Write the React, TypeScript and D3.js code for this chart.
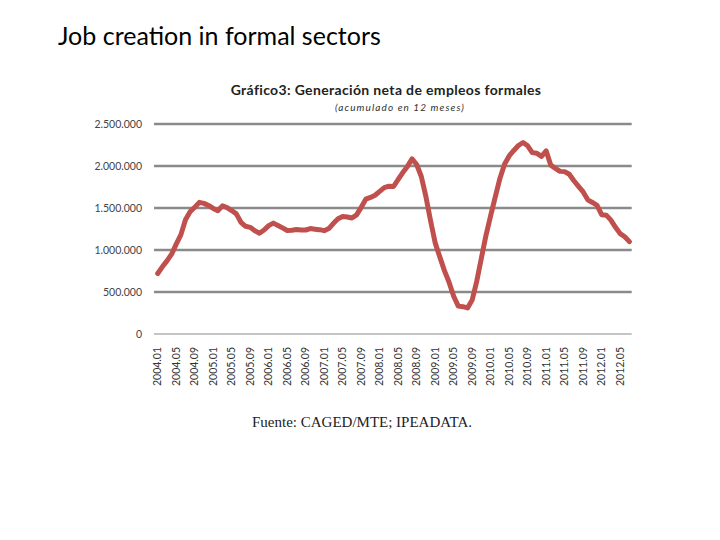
import { useEffect, useRef } from 'react';
import * as d3 from 'd3';

// monthly categories 2004.01 .. 2012.07
const months: string[] = [];
for (let y = 2004; y <= 2012; y++) {
  for (let m = 1; m <= 12; m++) {
    if (y === 2012 && m > 7) break;
    months.push(`${y}.${String(m).padStart(2, '0')}`);
  }
}

// net formal job creation, 12-month accumulated
const jobs = [
  720000, 800000, 870000, 950000, 1070000, 1180000, 1360000, 1456000, 1510000, 1567000,
  1555000, 1530000, 1495000, 1467000, 1525000, 1505000, 1470000, 1430000, 1330000, 1282000,
  1270000, 1230000, 1200000, 1238000, 1290000, 1320000, 1292000, 1263000, 1232000, 1236000,
  1245000, 1238000, 1238000, 1255000, 1248000, 1242000, 1230000, 1255000, 1318000, 1372000,
  1400000, 1393000, 1381000, 1418000, 1508000, 1605000, 1626000, 1652000, 1698000, 1742000,
  1760000, 1756000, 1840000, 1922000, 1995000, 2085000, 2018000, 1875000, 1635000, 1350000,
  1085000, 918000, 754000, 616000, 449000, 332000, 325000, 310000, 405000, 630000,
  906000, 1178000, 1410000, 1633000, 1852000, 2021000, 2120000, 2185000, 2244000, 2280000,
  2240000, 2159000, 2151000, 2115000, 2180000, 2010000, 1972000, 1936000, 1933000, 1902000,
  1824000, 1757000, 1691000, 1597000, 1566000, 1532000, 1420000, 1415000, 1356000, 1270000,
  1195000, 1158000, 1100000,
];

const yTicks = [0, 500000, 1000000, 1500000, 2000000, 2500000];

const fmt = (v: number) => (v === 0 ? '0' : d3.format(',')(v).replace(/,/g, '.'));

export default function App() {
  const svgRef = useRef<SVGSVGElement>(null);

  useEffect(() => {
    if (!svgRef.current) return;
    const svg = d3.select(svgRef.current);
    svg.selectAll('*').remove();

    const left = 155.4;
    const right = 631.7;
    const top = 124;
    const bottom = 334;

    const x = d3.scalePoint<string>().domain(months).range([left, right]).padding(0.5);
    const y = d3.scaleLinear().domain([0, 2500000]).range([bottom, top]);

    svg.append('rect').attr('width', 720).attr('height', 540).attr('fill', '#fff');

    // slide heading
    svg
      .append('text')
      .attr('x', 58)
      .attr('y', 45)
      .style('font-family', 'Lato, sans-serif')
      .style('font-size', '25px')
      .style('fill', '#000')
      .text('Job creation in formal sectors');

    // chart title
    svg
      .append('text')
      .attr('x', 386)
      .attr('y', 95)
      .attr('text-anchor', 'middle')
      .style('font-family', 'Lato, sans-serif')
      .style('font-weight', '700')
      .style('font-size', '14px')
      .style('letter-spacing', '0.35px')
      .style('fill', '#222')
      .text('Gráfico3: Generación neta de empleos formales');

    svg
      .append('text')
      .attr('x', 400)
      .attr('y', 111)
      .attr('text-anchor', 'middle')
      .style('font-family', 'Lato, sans-serif')
      .style('font-style', 'italic')
      .style('font-size', '10px')
      .style('letter-spacing', '1.1px')
      .style('fill', '#333')
      .text('(acumulado en 12 meses)');

    // gridlines
    svg
      .append('g')
      .selectAll('line')
      .data(yTicks)
      .join('line')
      .attr('x1', 154)
      .attr('x2', right)
      .attr('y1', (d) => y(d))
      .attr('y2', (d) => y(d))
      .attr('stroke', '#8a8a8a')
      .attr('stroke-width', (d) => (d === 0 ? 1 : 2.6));

    // y labels
    svg
      .append('g')
      .selectAll('text')
      .data(yTicks)
      .join('text')
      .attr('x', 142)
      .attr('y', (d) => y(d) + 3.5)
      .attr('text-anchor', 'end')
      .style('font-family', 'Lato, sans-serif')
      .style('font-size', '10.5px')
      .style('fill', '#444')
      .text((d) => fmt(d));

    // x labels every 4 months
    const xLabels = months.filter((_, i) => i % 4 === 0);
    svg
      .append('g')
      .selectAll('text')
      .data(xLabels)
      .join('text')
      .attr('transform', (d) => `translate(${(x(d) ?? 0) + 3.5},347) rotate(-90)`)
      .attr('text-anchor', 'end')
      .style('font-family', 'Lato, sans-serif')
      .style('font-size', '10.5px')
      .style('fill', '#333')
      .text((d) => d);

    // line
    const line = d3
      .line<number>()
      .x((_, i) => x(months[i]) ?? 0)
      .y((d) => y(d));

    svg
      .append('path')
      .datum(jobs)
      .attr('d', line)
      .attr('fill', 'none')
      .attr('stroke', '#c0504d')
      .attr('stroke-width', 5)
      .attr('stroke-linejoin', 'round')
      .attr('stroke-linecap', 'round');

    // source
    svg
      .append('text')
      .attr('x', 362)
      .attr('y', 427)
      .attr('text-anchor', 'middle')
      .style('font-family', '"Liberation Serif", serif')
      .style('font-size', '15px')
      .style('fill', '#222')
      .text('Fuente: CAGED/MTE; IPEADATA.');
  }, []);

  return (
    <svg
      ref={svgRef}
      width={720}
      height={540}
      style={{ position: 'absolute', left: 0, top: 0 }}
    />
  );
}
